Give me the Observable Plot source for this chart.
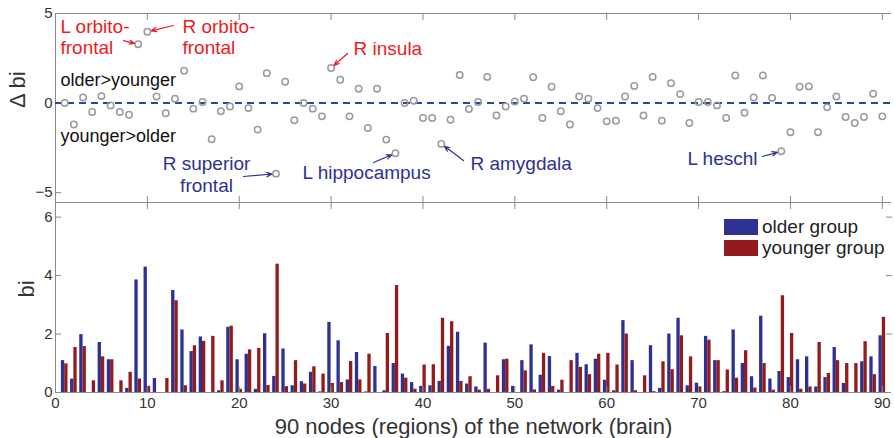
<!DOCTYPE html>
<html><head><meta charset="utf-8">
<script src="https://cdn.jsdelivr.net/npm/d3@7"></script>
<script src="https://cdn.jsdelivr.net/npm/@observablehq/plot@0.6"></script>
<style>
body{margin:0;background:#fff;font-family:"Liberation Sans",Arial,Helvetica,sans-serif;}
#wrap{position:relative;width:894px;height:438px;overflow:hidden;background:#fff;}
#top,#bot{position:absolute;left:0;}
#top{top:0}
#bot{top:202px}
.leg{position:absolute;font-size:19px;color:#222;line-height:19px;}
.sw{position:absolute;width:34px;height:16px;}
</style></head><body>
<div id="wrap"><div id="top"></div><div id="bot"></div><div id="legend"></div></div>
<script>
// ---- data ----
const nodes = d3.range(1, 91);
const deltaBi = [0,-1.2,0.31,-0.5,0.39,-0.13,-0.5,-0.65,3.28,3.98,
 0.37,-0.57,0.24,1.81,-0.31,0.06,-2.02,-0.46,-0.19,0.93,
 -0.28,-1.48,1.67,-3.94,1.19,-0.96,0,-0.31,-0.74,1.96,
 1.30,-0.74,0.80,-1.39,0.80,-2.04,-2.80,0,0.13,-0.83,
 -0.83,-2.28,-0.93,1.57,-0.33,0.06,1.46,-0.69,-0.19,0.09,
 0.24,1.44,-0.83,0.91,-0.46,-1.2,0.37,0.24,-0.28,-1.02,
 -0.98,0.37,0.96,-0.69,1.46,-0.98,1.11,0.5,-1.11,0.06,
 0.06,-0.13,-0.83,1.54,-0.54,0.31,1.54,0.28,-2.69,-1.63,
 0.91,0.93,-1.63,-0.24,0.37,-0.78,-1.11,-0.78,0.52,-0.74];
const olderBi = [1.09,0.46,1.98,0,1.71,1.12,0,0.14,3.85,4.29,
 0.48,0,3.49,2.14,1.40,1.90,0,0.06,2.23,1.12,
 1.31,0.11,2.01,0.55,1.49,0.23,0.37,0.69,0.02,2.40,
 1.77,0.43,1.37,0.02,0.89,0.06,0.99,0.63,0.34,0.21,
 0.23,0.38,1.58,2.06,0.29,0.19,1.69,0,1.12,0.21,
 1.09,1.63,0.59,1.23,0.08,0,1.34,0.95,1.14,0.42,
 0.06,2.46,1.09,0,1.60,0.14,2.00,2.54,0.23,0.32,
 1.92,1.09,0.03,2.14,0.99,0.54,2.61,0.46,0.72,0.51,
 1.12,1.22,0.19,0.51,1.54,0.31,0,1.05,1.22,1.94];
const youngerBi = [0.98,1.54,1.57,0.40,1.22,1.12,0.40,0.69,0.46,0.21,
 0,0.48,3.14,0.23,1.60,1.75,1.92,0.40,2.27,0.11,
 1.46,1.51,0.24,4.39,0.20,1.09,0.29,0.88,0.63,0.31,
 0.34,1.06,0.43,1.31,0,2.02,3.66,0.49,0.11,0.94,
 0.95,2.54,2.42,0.38,0.54,0.08,0.11,0.57,1.14,0,
 0.74,0.09,1.34,0.21,0.42,1.09,0.86,0.61,1.31,1.34,
 0.94,2.00,0.06,0.57,0.03,1.05,0.78,1.94,1.22,0.19,
 1.79,1.09,0.77,0.49,1.43,0.15,0.99,0.08,3.31,2.02,
 0.11,0.19,1.71,0.65,1.09,0.99,0.99,1.74,0.61,2.57];
const seriesNames = ["older group", "younger group"];
const xTickLabels = [0,10,20,30,40,50,60,70,80,90];
const deltaTicks = [-5,0,5];
const biTicks = [0,2,4,6];
const xTitle = "90 nodes (regions) of the network (brain)";
const deltaTitle = "Δ bi";
const biTitle = "bi";
// annotations: labelled nodes (text, node, label position, arrow tail offset from point)
const annoText  = ["L orbito-\nfrontal","R orbito-\nfrontal","R insula","R superior\nfrontal","L hippocampus","R amygdala","L heschl"];
const annoNode  = [9,10,30,24,37,42,79];
const annoGroup = ["up","up","up","down","down","down","down"];
const annoLabelX = [0.54,13.82,32.44,16.44,26.89,45.17,68.79];
const annoLabelY = [3.72,3.72,3.05,-3.96,-3.88,-3.37,-3.09];
const annoAnchor = ["start","start","start","middle","start","start","start"];
const arrowDx = [-1.6,2.84,1.79,-3.54,-2.38,2.41,-2.05];
const arrowDy = [0.21,0.35,0.81,-0.16,-0.52,-0.93,-0.29];
const regionText = ["older>younger","younger>older"];
const regionX = [0.54,0.54];
const regionY = [1.26,-1.87];

// ---- styling ----
const W = 894, ML = 55, MR = 3;
const xDomain = [0, 91];
const axisCol = "#8a8a8a", textCol = "#333";
const blue = "#2d3192", red = "#931b1d";
const annoCol = {up: "#ec1c24", down: "#2e3192"};
const font = "'Liberation Sans', Arial, Helvetica, sans-serif";

const deltaData = nodes.map((n, i) => ({node: n, delta: deltaBi[i]}));
const barData = nodes.map((n, i) => ({node: n, older: olderBi[i], younger: youngerBi[i]}));
const annos = annoText.map((t, i) => {
  const n = annoNode[i], v = deltaBi[n - 1];
  return {text: t, node: n, v, group: annoGroup[i], lx: annoLabelX[i], ly: annoLabelY[i], anchor: annoAnchor[i],
          x1: n + arrowDx[i], y1: v + arrowDy[i]};
});
const regions = regionText.map((t, i) => ({text: t, x: regionX[i], y: regionY[i]}));
const blank = () => "";
const annoTextMark = (anchor) => Plot.text(annos.filter(d => d.anchor === anchor), {
  x: "lx", y: "ly", text: "text", textAnchor: anchor, fontSize: 19, lineHeight: 1.13,
  fill: d => annoCol[d.group]});

const topPlot = Plot.plot({
  width: W, height: 203, marginTop: 13, marginBottom: 1, marginLeft: ML, marginRight: MR,
  style: {fontFamily: font, fontSize: "15px", color: textCol, background: "transparent", overflow: "visible"},
  x: {domain: xDomain, axis: null},
  y: {domain: [-5.55, 5], axis: null},
  marks: [
    Plot.ruleY([-5.55, 5], {stroke: axisCol, strokeWidth: 1}),
    Plot.ruleX([0], {stroke: axisCol, strokeWidth: 1}),
    Plot.axisX(xTickLabels.slice(1), {anchor: "top", tickSize: -6, tickFormat: blank, stroke: axisCol, label: null}),
    Plot.axisX(xTickLabels.slice(1), {anchor: "bottom", tickSize: -6, tickFormat: blank, stroke: axisCol, label: null}),
    Plot.axisY(deltaTicks, {anchor: "left", tickSize: -6, tickPadding: 9, fontSize: 15, stroke: axisCol, fill: textCol, label: null}),
    Plot.ruleY([0], {stroke: "#2548a8", strokeWidth: 2, strokeDasharray: "7,5"}),
    Plot.dot(deltaData, {x: "node", y: "delta", r: 3.2, stroke: "#9a9a9a", strokeWidth: 1.5, fill: "none"}),
    Plot.text(regions, {x: "x", y: "y", text: "text", textAnchor: "start", fontSize: 18, fill: "#111"}),
    annoTextMark("start"),
    annoTextMark("middle"),
    Plot.arrow(annos, {x1: "x1", y1: "y1", x2: "node", y2: "v", stroke: d => annoCol[d.group], strokeWidth: 1.2,
      headLength: 7, headAngle: 45, insetEnd: 4}),
    Plot.text([deltaTitle], {frameAnchor: "left", dx: -38, rotate: -90, fontSize: 22, fill: textCol})
  ]
});
document.getElementById("top").appendChild(topPlot);

const botPlot = Plot.plot({
  width: W, height: 236, marginTop: 0, marginBottom: 46, marginLeft: ML, marginRight: MR,
  style: {fontFamily: font, fontSize: "15px", color: textCol, background: "transparent", overflow: "visible"},
  x: {domain: xDomain, axis: null},
  y: {domain: [0, 6.5], axis: null},
  marks: [
    Plot.rectY(barData, {x1: d => d.node - 0.36, x2: "node", y: "older", fill: blue}),
    Plot.rectY(barData, {x1: "node", x2: d => d.node + 0.36, y: "younger", fill: red}),
    Plot.ruleY([0, 6.5], {stroke: axisCol, strokeWidth: 1}),
    Plot.ruleX([0], {stroke: axisCol, strokeWidth: 1}),
    Plot.axisX(xTickLabels.slice(1), {anchor: "top", tickSize: -6, tickFormat: blank, stroke: axisCol, label: null}),
    Plot.axisX(xTickLabels.slice(1), {anchor: "bottom", tickSize: -6, tickFormat: blank, stroke: axisCol, label: null}),
    Plot.axisX(xTickLabels, {anchor: "bottom", tickSize: 0, tickPadding: 5, fontSize: 15, fill: textCol, label: null}),
    Plot.axisY(biTicks, {anchor: "left", tickSize: -6, tickPadding: 9, fontSize: 15, stroke: axisCol, fill: textCol, label: null}),
    Plot.axisY(biTicks.slice(1), {anchor: "right", tickSize: -6, tickFormat: blank, stroke: axisCol, label: null}),
    Plot.text([biTitle], {frameAnchor: "left", dx: -29, rotate: -90, fontSize: 22, fill: textCol}),
    Plot.text([xTitle], {frameAnchor: "bottom", lineAnchor: "middle", dy: 34, fontSize: 22, fill: textCol})
  ]
});
document.getElementById("bot").appendChild(botPlot);

// legend
const legCols = [blue, red];
const leg = d3.select("#legend");
seriesNames.forEach((name, i) => {
  leg.append("div").attr("class", "sw")
    .style("left", "724px").style("top", (219 + i * 21) + "px")
    .style("background", legCols[i]);
  leg.append("div").attr("class", "leg")
    .style("left", "762px").style("top", (217 + i * 21) + "px")
    .text(name);
});
</script>
</body></html>
